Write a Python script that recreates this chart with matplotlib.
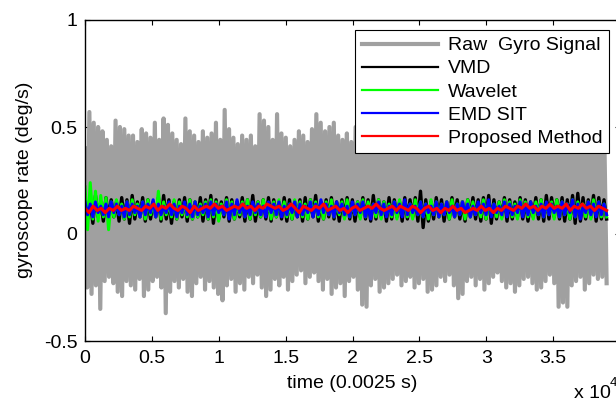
#! /usr/bin/env python3
"""Gyroscope rate: raw signal against four denoising methods."""

import matplotlib

matplotlib.use("Agg")
import matplotlib.pyplot as plt
import numpy as np

plt.rcParams.update({"font.family": "Liberation Sans", "font.size": 14,
                     "axes.unicode_minus": False})

n_samples = 39000

# upper / lower excursions of the raw gyro signal, read left to right
raw_peak = [
    0.40, 0.57, 0.52, 0.50, 0.48, 0.44, 0.41, 0.53, 0.50, 0.49,
    0.46, 0.46, 0.43, 0.49, 0.47, 0.45, 0.52, 0.44, 0.54, 0.51,
    0.47, 0.44, 0.42, 0.54, 0.48, 0.46, 0.43, 0.48, 0.45, 0.47,
    0.52, 0.44, 0.58, 0.49, 0.45, 0.42, 0.46, 0.44, 0.46, 0.41,
    0.56, 0.53, 0.50, 0.44, 0.56, 0.47, 0.45, 0.41, 0.44, 0.48,
    0.46, 0.43, 0.49, 0.56, 0.52, 0.48, 0.50, 0.52, 0.46, 0.44,
    0.47, 0.43, 0.50, 0.45, 0.42, 0.48, 0.44, 0.41, 0.46, 0.43,
    0.49, 0.45, 0.42, 0.47, 0.44, 0.51, 0.46, 0.43, 0.48, 0.45,
    0.42, 0.47, 0.44, 0.50, 0.45, 0.43, 0.48, 0.44, 0.41, 0.46,
    0.49, 0.44, 0.42, 0.47, 0.45, 0.52, 0.46, 0.43, 0.48, 0.44,
    0.41, 0.46, 0.43, 0.49, 0.45, 0.42, 0.47, 0.44, 0.50, 0.45,
    0.43, 0.48, 0.44, 0.46, 0.42, 0.47, 0.45, 0.43, 0.46, 0.42,
]
raw_trough = [
    -0.25, -0.28, -0.24, -0.35, -0.22, -0.20, -0.23, -0.27, -0.29, -0.22,
    -0.24, -0.26, -0.21, -0.29, -0.26, -0.22, -0.20, -0.25, -0.37, -0.27,
    -0.22, -0.25, -0.21, -0.27, -0.29, -0.23, -0.20, -0.26, -0.22, -0.25,
    -0.28, -0.31, -0.24, -0.21, -0.27, -0.23, -0.26, -0.20, -0.23, -0.19,
    -0.25, -0.29, -0.26, -0.21, -0.24, -0.20, -0.26, -0.22, -0.19, -0.17,
    -0.23, -0.20, -0.18, -0.22, -0.26, -0.21, -0.28, -0.25, -0.23, -0.29,
    -0.22, -0.20, -0.26, -0.33, -0.34, -0.24, -0.21, -0.27, -0.25, -0.23,
    -0.21, -0.19, -0.24, -0.22, -0.20, -0.25, -0.23, -0.21, -0.27, -0.26,
    -0.24, -0.20, -0.22, -0.19, -0.24, -0.30, -0.28, -0.22, -0.20, -0.24,
    -0.21, -0.26, -0.23, -0.20, -0.18, -0.22, -0.25, -0.23, -0.27, -0.24,
    -0.21, -0.20, -0.23, -0.26, -0.25, -0.22, -0.19, -0.23, -0.34, -0.32,
    -0.34, -0.24, -0.22, -0.20, -0.26, -0.23, -0.19, -0.21, -0.20, -0.23,
]

vmd_hi = [
    0.17, 0.16, 0.18, 0.15, 0.17, 0.16, 0.15, 0.17, 0.16, 0.18,
    0.15, 0.17, 0.16, 0.15, 0.17, 0.18, 0.16, 0.15, 0.16, 0.17,
    0.16, 0.15, 0.17, 0.16, 0.18, 0.16, 0.15, 0.17, 0.16, 0.15,
    0.17, 0.16, 0.18, 0.15, 0.16, 0.17, 0.16, 0.15, 0.17, 0.16,
    0.15, 0.16, 0.17, 0.16, 0.18, 0.15, 0.16, 0.17, 0.15, 0.16,
    0.17, 0.16, 0.15, 0.17, 0.16, 0.18, 0.16, 0.15, 0.17, 0.16,
    0.15, 0.17, 0.16, 0.17, 0.20, 0.16, 0.15, 0.17, 0.16, 0.15,
    0.17, 0.16, 0.15, 0.16, 0.17, 0.16, 0.17, 0.18, 0.16, 0.15,
    0.17, 0.16, 0.15, 0.17, 0.16, 0.15, 0.17, 0.16, 0.18, 0.17,
    0.16, 0.17, 0.16, 0.18, 0.19, 0.17, 0.16, 0.18, 0.17, 0.16,
]
vmd_lo = [
    0.07, 0.05, 0.08, 0.06, 0.07, 0.08, 0.06, 0.07, 0.05, 0.07,
    0.08, 0.06, 0.07, 0.08, 0.06, 0.07, 0.05, 0.07, 0.08, 0.06,
    0.07, 0.08, 0.06, 0.07, 0.05, 0.07, 0.08, 0.06, 0.07, 0.08,
    0.06, 0.07, 0.06, 0.08, 0.07, 0.06, 0.08, 0.07, 0.06, 0.07,
    0.08, 0.06, 0.07, 0.08, 0.06, 0.07, 0.08, 0.07, 0.06, 0.08,
    0.07, 0.06, 0.08, 0.07, 0.06, 0.07, 0.08, 0.06, 0.07, 0.08,
    0.06, 0.07, 0.08, 0.06, 0.03, 0.06, 0.07, 0.08, 0.06, 0.07,
    0.08, 0.07, 0.06, 0.08, 0.07, 0.06, 0.07, 0.05, 0.07, 0.08,
    0.06, 0.07, 0.08, 0.07, 0.06, 0.08, 0.07, 0.06, 0.07, 0.08,
    0.07, 0.06, 0.07, 0.05, 0.06, 0.07, 0.08, 0.06, 0.07, 0.07,
]

wavelet_hi = [
    0.22, 0.24, 0.20, 0.18, 0.17, 0.15, 0.16, 0.14, 0.15, 0.16,
    0.14, 0.15, 0.16, 0.14, 0.20, 0.15, 0.14, 0.16, 0.15, 0.14,
    0.16, 0.15, 0.14, 0.15, 0.16, 0.15, 0.14, 0.16, 0.15, 0.14,
    0.15, 0.16, 0.14, 0.15, 0.16, 0.14, 0.15, 0.16, 0.15, 0.14,
    0.16, 0.15, 0.14, 0.16, 0.15, 0.14, 0.15, 0.16, 0.14, 0.15,
    0.16, 0.14, 0.15, 0.16, 0.15, 0.14, 0.16, 0.15, 0.14, 0.15,
    0.16, 0.15, 0.14, 0.16, 0.15, 0.14, 0.16, 0.15, 0.14, 0.15,
    0.16, 0.14, 0.15, 0.16, 0.15, 0.14, 0.16, 0.15, 0.14, 0.15,
    0.16, 0.15, 0.14, 0.16, 0.15, 0.14, 0.15, 0.16, 0.14, 0.15,
    0.16, 0.15, 0.14, 0.16, 0.15, 0.14, 0.15, 0.16, 0.15, 0.14,
]
wavelet_lo = [
    0.02, 0.07, 0.06, 0.08, 0.02, 0.08, 0.09, 0.07, 0.08, 0.09,
    0.08, 0.07, 0.09, 0.08, 0.07, 0.09, 0.08, 0.07, 0.09, 0.08,
    0.07, 0.08, 0.09, 0.07, 0.08, 0.06, 0.09, 0.08, 0.07, 0.09,
    0.08, 0.07, 0.09, 0.08, 0.09, 0.07, 0.08, 0.09, 0.08, 0.07,
    0.09, 0.08, 0.07, 0.09, 0.08, 0.07, 0.09, 0.08, 0.09, 0.07,
    0.08, 0.09, 0.07, 0.08, 0.09, 0.08, 0.07, 0.09, 0.08, 0.07,
    0.09, 0.08, 0.07, 0.09, 0.08, 0.07, 0.09, 0.08, 0.09, 0.07,
    0.08, 0.09, 0.07, 0.08, 0.09, 0.08, 0.07, 0.09, 0.08, 0.07,
    0.09, 0.08, 0.07, 0.09, 0.08, 0.07, 0.09, 0.08, 0.09, 0.07,
    0.08, 0.09, 0.07, 0.08, 0.09, 0.08, 0.07, 0.09, 0.08, 0.08,
]

emd_hi = [
    0.15, 0.14, 0.15, 0.13, 0.14, 0.15, 0.14, 0.13, 0.15, 0.14,
    0.13, 0.15, 0.14, 0.16, 0.14, 0.13, 0.15, 0.14, 0.13, 0.15,
    0.14, 0.15, 0.13, 0.14, 0.15, 0.14, 0.13, 0.15, 0.14, 0.16,
    0.14, 0.13, 0.15, 0.14, 0.13, 0.15, 0.14, 0.15, 0.13, 0.14,
    0.15, 0.14, 0.13, 0.15, 0.14, 0.16, 0.14, 0.13, 0.15, 0.14,
    0.13, 0.15, 0.14, 0.15, 0.13, 0.14, 0.15, 0.14, 0.13, 0.15,
    0.14, 0.16, 0.14, 0.13, 0.15, 0.14, 0.13, 0.15, 0.14, 0.15,
    0.13, 0.14, 0.15, 0.14, 0.13, 0.15, 0.14, 0.16, 0.14, 0.13,
    0.15, 0.14, 0.13, 0.15, 0.14, 0.15, 0.13, 0.14, 0.15, 0.14,
    0.13, 0.15, 0.14, 0.16, 0.14, 0.13, 0.15, 0.14, 0.15, 0.14,
]
emd_lo = [
    0.09, 0.08, 0.10, 0.09, 0.08, 0.10, 0.09, 0.08, 0.09, 0.10,
    0.08, 0.09, 0.10, 0.08, 0.09, 0.10, 0.09, 0.08, 0.10, 0.09,
    0.08, 0.09, 0.10, 0.08, 0.09, 0.10, 0.09, 0.07, 0.09, 0.10,
    0.08, 0.09, 0.10, 0.09, 0.08, 0.10, 0.09, 0.08, 0.09, 0.10,
    0.08, 0.09, 0.10, 0.08, 0.09, 0.10, 0.09, 0.08, 0.10, 0.09,
    0.08, 0.09, 0.10, 0.08, 0.07, 0.10, 0.09, 0.08, 0.09, 0.10,
    0.08, 0.09, 0.10, 0.09, 0.08, 0.10, 0.09, 0.08, 0.09, 0.10,
    0.08, 0.09, 0.10, 0.08, 0.09, 0.10, 0.09, 0.08, 0.10, 0.09,
    0.08, 0.09, 0.10, 0.08, 0.09, 0.10, 0.09, 0.08, 0.09, 0.10,
    0.08, 0.09, 0.10, 0.08, 0.07, 0.10, 0.09, 0.08, 0.09, 0.09,
]

proposed = [
    0.12, 0.10, 0.13, 0.11, 0.12, 0.10, 0.12, 0.11, 0.13, 0.11,
    0.12, 0.11, 0.13, 0.12, 0.11, 0.13, 0.12, 0.14, 0.11, 0.13,
    0.12, 0.14, 0.12, 0.11, 0.13, 0.12, 0.10, 0.13, 0.11, 0.12,
    0.13, 0.12, 0.14, 0.12, 0.13, 0.11, 0.12, 0.13, 0.12, 0.14,
    0.12, 0.13, 0.11, 0.13, 0.12, 0.14, 0.13, 0.12, 0.13, 0.11,
    0.12, 0.14, 0.12, 0.10, 0.13, 0.12, 0.11, 0.13, 0.12, 0.14,
    0.11, 0.12, 0.13, 0.11, 0.12, 0.10, 0.12, 0.13, 0.11, 0.12,
    0.13, 0.12, 0.14, 0.12, 0.11, 0.12, 0.13, 0.11, 0.13, 0.12,
    0.11, 0.13, 0.12, 0.10, 0.12, 0.13, 0.11, 0.12, 0.10, 0.12,
    0.11, 0.13, 0.11, 0.12, 0.10, 0.11, 0.12, 0.11, 0.13, 0.11,
    0.12, 0.10, 0.12, 0.11, 0.13, 0.12, 0.11, 0.13, 0.12, 0.14,
    0.12, 0.13, 0.11, 0.13, 0.12, 0.14, 0.12, 0.13, 0.12, 0.14,
    0.11, 0.13, 0.12, 0.14, 0.12, 0.13, 0.11, 0.13, 0.12, 0.11,
]

x_ticks = [0, 5000, 10000, 15000, 20000, 25000, 30000, 35000, 40000]
x_tick_labels = ["0", "0.5", "1", "1.5", "2", "2.5", "3", "3.5", ""]
y_ticks = [-0.5, 0, 0.5, 1]
y_tick_labels = ["-0.5", "0", "0.5", "1"]


def zigzag(high, low):
    """Interleave upper and lower excursions into one trace."""
    values = np.column_stack([high, low]).ravel()
    return np.linspace(0, n_samples, len(values)), values


fig = plt.figure(figsize=(6.16, 4.03), dpi=100)
ax = fig.add_axes([85 / 616, 62 / 403, 535 / 616, 321 / 403])

ax.plot(*zigzag(raw_peak, raw_trough), color="#a0a0a0", lw=3,
        solid_joinstyle="round", label="Raw  Gyro Signal")
ax.plot(*zigzag(vmd_hi, vmd_lo), color="black", lw=2.4, label="VMD")
ax.plot(*zigzag(wavelet_hi, wavelet_lo), color="#00ff00", lw=2.2, label="Wavelet")
ax.plot(*zigzag(emd_hi, emd_lo), color="#0000ff", lw=2.2, label="EMD SIT")
ax.plot(np.linspace(0, n_samples, len(proposed)), proposed, color="#ff0000",
        lw=2.2, label="Proposed Method")

ax.set_xlim(0, 40000)
ax.set_ylim(-0.5, 1)
ax.set_xticks(x_ticks, x_tick_labels)
ax.set_yticks(y_ticks, y_tick_labels)
ax.tick_params(direction="in", length=3.5, width=0.8, top=True, right=True)
ax.tick_params(axis="x", pad=6.5)
ax.tick_params(axis="y", pad=5.5)
for spine in ax.spines.values():
    spine.set_linewidth(1.0)

fig.text(25 / 616, 1 - 180 / 403, "gyroscope rate (deg/s)", rotation=90,
         ha="center", va="center")
ax.set_xlabel("time (0.0025 s)")
ax.xaxis.set_label_coords(0.5, -(383 - 341) / 321)
ax.xaxis.label.set_va("center")
fig.text(574 / 616, 1 - 398 / 403, "x 10", ha="left", va="baseline")
fig.text(610 / 616, 1 - 386 / 403, "4", ha="left", va="baseline", fontsize=9.5)

handles, labels = ax.get_legend_handles_labels()
leg = ax.legend(handles, labels, loc="upper right",
                bbox_to_anchor=(609 / 616, 1 - 30 / 403),
                bbox_transform=fig.transFigure, borderaxespad=0, fontsize=14,
                fancybox=False, framealpha=1, edgecolor="black",
                handlelength=3.9, handletextpad=0.5, labelspacing=0.28,
                borderpad=0.35)
leg.get_frame().set_linewidth(0.8)
for line in leg.get_lines()[1:]:
    line.set_linewidth(1.6)

fig.savefig("out.png", dpi=100)
